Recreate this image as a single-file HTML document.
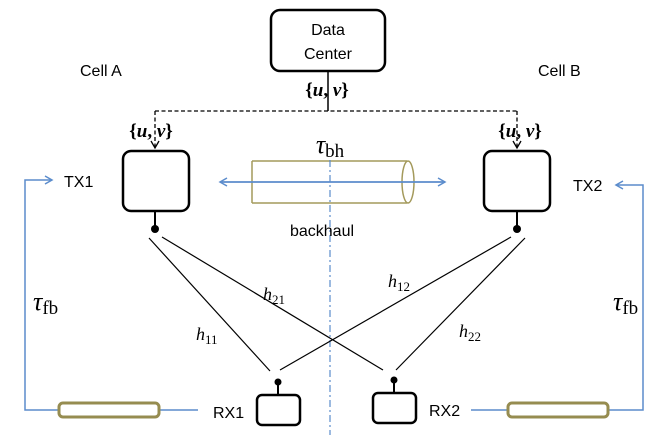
<!DOCTYPE html>
<html><head><style>
body{margin:0;background:#fff;}
.s{font-family:"Liberation Sans",sans-serif;}
.m{font-family:"Liberation Serif",serif;}
</style></head><body>
<svg width="664" height="435" viewBox="0 0 664 435" xmlns="http://www.w3.org/2000/svg">
<defs>
<marker id="ab" markerWidth="10" markerHeight="10" refX="8" refY="5" orient="auto-start-reverse" markerUnits="userSpaceOnUse"><path d="M1,1 L8,5 L1,9" fill="none" stroke="#5b8ccc" stroke-width="1.5"/></marker>
<marker id="ak" markerWidth="10" markerHeight="10" refX="8" refY="5" orient="auto" markerUnits="userSpaceOnUse"><path d="M1,1 L8,5 L1,9" fill="none" stroke="#000" stroke-width="1.3"/></marker>
</defs>
<rect x="271" y="10" width="114" height="61" rx="9" fill="#fff" stroke="#000" stroke-width="2.5"/>
<text class="s" x="328" y="35" font-size="16" text-anchor="middle">Data</text>
<text class="s" x="328" y="59" font-size="16" text-anchor="middle">Center</text>
<line x1="328" y1="71" x2="328" y2="111" stroke="#000" stroke-width="1.5"/>
<path d="M155,111 H517" fill="none" stroke="#000" stroke-width="1.3" stroke-dasharray="4,2.5"/>
<path d="M155,111 V148" fill="none" stroke="#000" stroke-width="1.3" stroke-dasharray="4,2.5" marker-end="url(#ak)"/>
<path d="M517,111 V148" fill="none" stroke="#000" stroke-width="1.3" stroke-dasharray="4,2.5" marker-end="url(#ak)"/>
<text class="m" x="327" y="96" font-size="19" text-anchor="middle" font-weight="bold">{<tspan font-style="italic">u</tspan>, <tspan font-style="italic">v</tspan>}</text>
<text class="m" x="151" y="137" font-size="19" text-anchor="middle" font-weight="bold">{<tspan font-style="italic">u</tspan>, <tspan font-style="italic">v</tspan>}</text>
<text class="m" x="520" y="137" font-size="19" text-anchor="middle" font-weight="bold">{<tspan font-style="italic">u</tspan>, <tspan font-style="italic">v</tspan>}</text>
<text class="s" x="80" y="76" font-size="16">Cell A</text>
<text class="s" x="538" y="76" font-size="16">Cell B</text>
<rect x="123" y="151" width="66" height="60" rx="8" fill="#fff" stroke="#000" stroke-width="2.5"/>
<rect x="484" y="151" width="66" height="60" rx="8" fill="#fff" stroke="#000" stroke-width="2.5"/>
<line x1="155" y1="211" x2="155" y2="229" stroke="#000" stroke-width="2"/>
<line x1="517" y1="211" x2="517" y2="229" stroke="#000" stroke-width="2"/>
<circle cx="155" cy="229" r="4" fill="#000"/>
<circle cx="517" cy="229" r="4" fill="#000"/>
<text class="s" x="64" y="187" font-size="16">TX1</text>
<text class="s" x="573" y="191" font-size="16">TX2</text>
<path d="M252,161 H407 M252,203 H407 M252,161 V203" fill="none" stroke="#a49a5c" stroke-width="1.5"/>
<ellipse cx="408" cy="182" rx="6" ry="21" fill="none" stroke="#a49a5c" stroke-width="1.5"/>
<line x1="330" y1="160" x2="330" y2="435" stroke="#5b8ccc" stroke-width="1.2" stroke-dasharray="7,3,2,3"/>
<line x1="220" y1="182" x2="445" y2="182" stroke="#5b8ccc" stroke-width="1.8" marker-start="url(#ab)" marker-end="url(#ab)"/>
<text class="m" x="330" y="153" font-size="26" text-anchor="middle"><tspan font-style="italic">τ</tspan><tspan font-size="19" dy="4">bh</tspan></text>
<text class="s" x="322" y="236" font-size="16" text-anchor="middle">backhaul</text>
<g stroke="#000" stroke-width="1.2">
<line x1="149" y1="238" x2="270" y2="371"/>
<line x1="162" y1="237" x2="383" y2="370"/>
<line x1="511" y1="237" x2="280" y2="370"/>
<line x1="525" y1="238" x2="396" y2="370"/>
</g>
<text class="m" x="196" y="340" font-size="18" font-style="italic">h<tspan font-size="13" dy="4" font-style="normal">11</tspan></text>
<text class="m" x="263" y="300" font-size="18" font-style="italic">h<tspan font-size="13" dy="4" font-style="normal">21</tspan></text>
<text class="m" x="388" y="287" font-size="18" font-style="italic">h<tspan font-size="13" dy="4" font-style="normal">12</tspan></text>
<text class="m" x="459" y="337" font-size="18" font-style="italic">h<tspan font-size="13" dy="4" font-style="normal">22</tspan></text>
<rect x="257" y="395" width="43" height="30" rx="5" fill="#fff" stroke="#000" stroke-width="2.5"/>
<rect x="373" y="393" width="43" height="30" rx="5" fill="#fff" stroke="#000" stroke-width="2.5"/>
<line x1="278" y1="382" x2="278" y2="395" stroke="#000" stroke-width="2"/>
<line x1="394" y1="380" x2="394" y2="393" stroke="#000" stroke-width="2"/>
<circle cx="278" cy="382" r="3.5" fill="#000"/>
<circle cx="394" cy="380" r="3.5" fill="#000"/>
<text class="s" x="213" y="418" font-size="16">RX1</text>
<text class="s" x="429" y="416" font-size="16">RX2</text>
<path d="M198,410 H25 V180 H52" fill="none" stroke="#5b8ccc" stroke-width="1.5" marker-end="url(#ab)"/>
<path d="M471,410 H643 V185 H616" fill="none" stroke="#5b8ccc" stroke-width="1.5" marker-end="url(#ab)"/>
<rect x="59" y="403" width="100" height="14" rx="4" fill="#fff" stroke="#968c50" stroke-width="3"/>
<rect x="508" y="403" width="100" height="14" rx="4" fill="#fff" stroke="#968c50" stroke-width="3"/>
<text class="m" x="33" y="310" font-size="26"><tspan font-style="italic">τ</tspan><tspan font-size="19" dy="4">fb</tspan></text>
<text class="m" x="613" y="310" font-size="26"><tspan font-style="italic">τ</tspan><tspan font-size="19" dy="4">fb</tspan></text>
</svg>
</body></html>
